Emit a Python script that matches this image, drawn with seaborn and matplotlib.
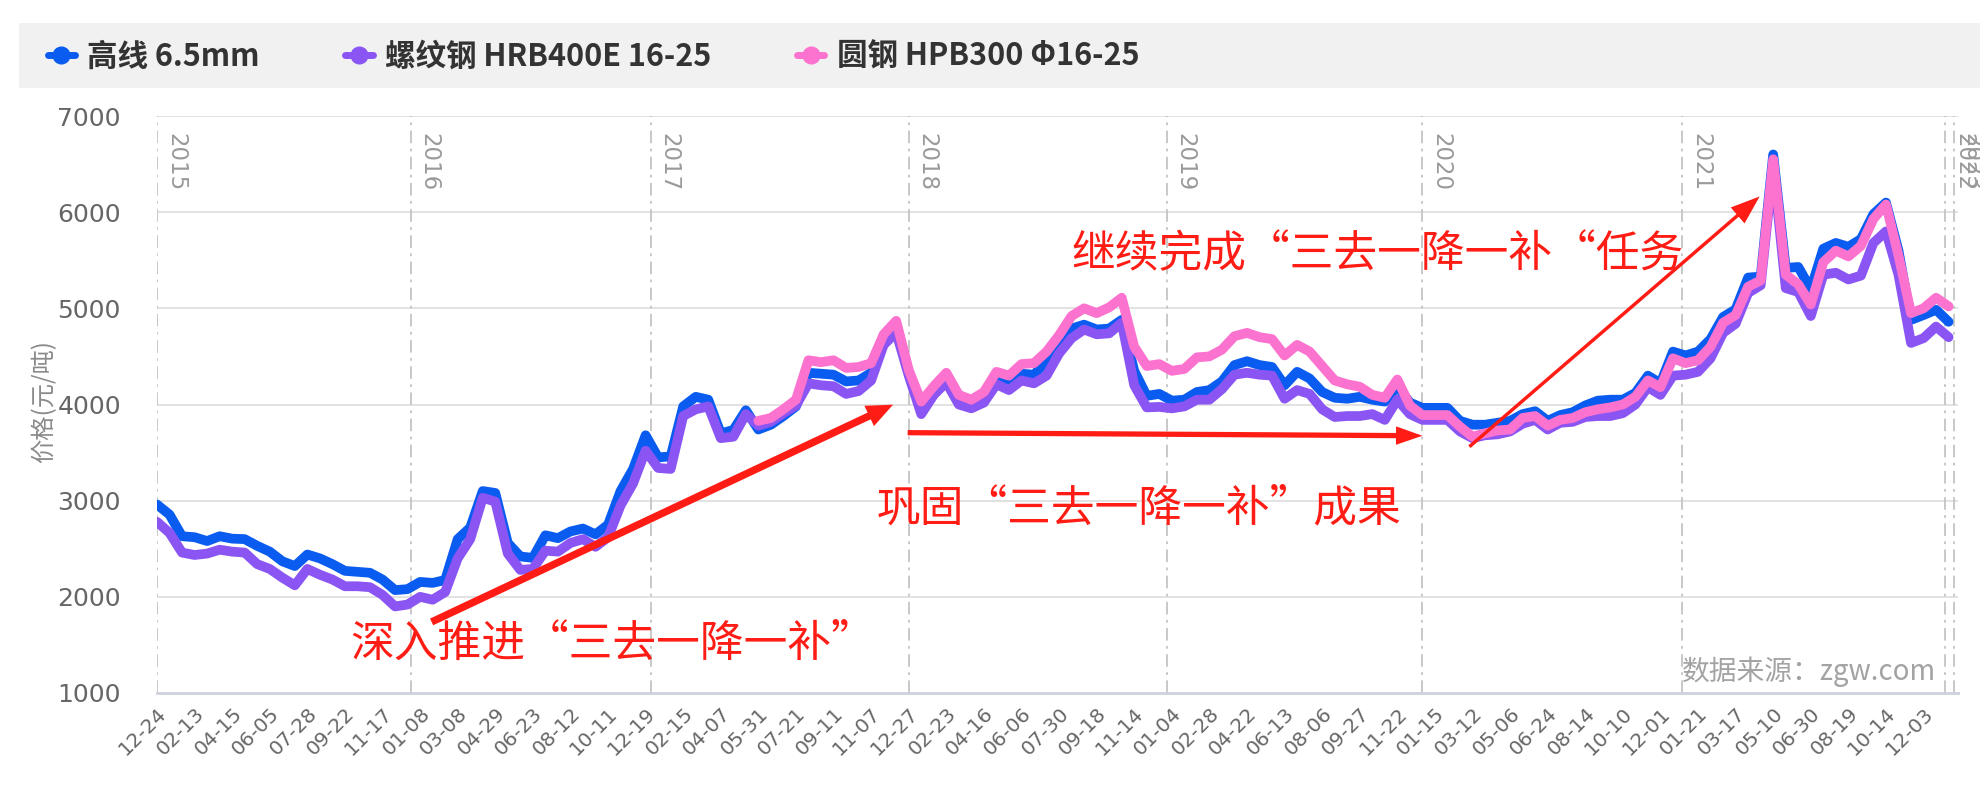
import numpy as np
import pandas as pd
import matplotlib
matplotlib.use("Agg")
import matplotlib.pyplot as plt
import seaborn as sns
from matplotlib.lines import Line2D
from matplotlib.patches import Rectangle

# ---------------- data ----------------
series_names = ["高线 6.5mm", "螺纹钢 HRB400E 16-25", "圆钢 HPB300 Φ16-25"]
sample_step = 12      # trading-day categories between stored samples
tick_every = 36       # categories between x tick labels
n_categories = 1725

wire_rod = [2960, 2855, 2630, 2620, 2580, 2630, 2605, 2600, 2530, 2470,
            2370, 2320, 2440, 2400, 2340, 2270, 2260, 2250, 2180, 2070,
            2080, 2155, 2145, 2175, 2600, 2720, 3100, 3080, 2560, 2420,
            2405, 2640, 2610, 2680, 2710, 2650, 2750, 3100, 3330, 3680,
            3450, 3460, 3980, 4080, 4050, 3700, 3735, 3940, 3740, 3790,
            3880, 3980, 4330, 4320, 4310, 4240, 4250, 4330, 4680, 4800,
            4330, 3950, 4130, 4280, 4050, 3990, 4060, 4260, 4220, 4320,
            4310, 4450, 4600, 4790, 4830, 4780, 4790, 4880, 4350, 4090,
            4110, 4040, 4050, 4130, 4150, 4240, 4410, 4450, 4410, 4390,
            4200, 4340, 4270, 4130, 4070, 4060, 4080, 4050, 4030, 4190,
            4020, 3965, 3965, 3965, 3830, 3790, 3790, 3810, 3830, 3900,
            3930, 3830, 3890, 3920, 3990, 4040, 4050, 4050, 4120, 4300,
            4220, 4550, 4510, 4550, 4680, 4910, 4990, 5320, 5330, 6600,
            5420, 5430, 5200, 5620, 5680, 5640, 5720, 5980, 6100, 5600,
            4880, 4930, 4985, 4860]

rebar = [2780, 2665, 2460, 2435, 2450, 2490, 2470, 2460, 2340, 2290,
         2200, 2120, 2290, 2230, 2180, 2110, 2110, 2100, 2020, 1900,
         1920, 2000, 1970, 2050, 2400, 2600, 3030, 2990, 2450, 2280,
         2290, 2480, 2470, 2560, 2600, 2520, 2620, 2950, 3180, 3520,
         3340, 3330, 3880, 3950, 3980, 3650, 3665, 3900, 3780, 3820,
         3910, 3990, 4220, 4200, 4190, 4110, 4140, 4250, 4620, 4750,
         4300, 3900, 4100, 4230, 4000, 3960, 4020, 4210, 4150, 4250,
         4220, 4300, 4530, 4690, 4780, 4730, 4740, 4850, 4200, 3970,
         3975, 3960, 3980, 4050, 4050, 4160, 4310, 4330, 4310, 4300,
         4060, 4150, 4110, 3950, 3870, 3880, 3880, 3900, 3840, 4050,
         3900, 3840, 3840, 3840, 3720, 3650, 3680, 3690, 3720, 3800,
         3840, 3740, 3810, 3820, 3870, 3880, 3880, 3910, 4000, 4180,
         4100, 4300, 4310, 4340, 4480, 4745, 4840, 5160, 5240, 6480,
         5210, 5170, 4920, 5350, 5370, 5300, 5340, 5680, 5800, 5350,
         4640, 4690, 4810, 4700]

round_bar = [np.nan] * 48 + [
    3830, 3860, 3950, 4050, 4460, 4440, 4460, 4380, 4390, 4430,
    4730, 4870, 4360, 4030, 4190, 4330, 4100, 4050, 4130, 4340,
    4300, 4420, 4430, 4550, 4720, 4920, 5000, 4950, 5010, 5110,
    4600, 4400, 4420, 4350, 4370, 4490, 4500, 4570, 4710, 4745,
    4700, 4680, 4510, 4620, 4550, 4400, 4250, 4210, 4185, 4100,
    4070, 4260, 3990, 3890, 3890, 3890, 3770, 3665, 3700, 3730,
    3740, 3860, 3880, 3780, 3840, 3860, 3920, 3950, 3970, 4000,
    4080, 4250, 4180, 4480, 4430, 4460, 4600, 4850, 4930, 5225,
    5290, 6550, 5350, 5250, 5040, 5480, 5600, 5540, 5650, 5930,
    6080, 5550, 4950, 5000, 5110, 5020]

tick_labels = ["12-24", "02-13", "04-15", "06-05", "07-28", "09-22", "11-17", "01-08",
               "03-08", "04-29", "06-23", "08-12", "10-11", "12-19", "02-15", "04-07",
               "05-31", "07-21", "09-11", "11-07", "12-27", "02-23", "04-16", "06-06",
               "07-30", "09-18", "11-14", "01-04", "02-28", "04-22", "06-13", "08-06",
               "09-27", "11-22", "01-15", "03-12", "05-06", "06-24", "08-14", "10-10",
               "12-01", "01-21", "03-17", "05-10", "06-30", "08-19", "10-14", "12-03"]

year_labels = ["2015", "2016", "2017", "2018", "2019", "2020", "2021", "2022", "2023"]
year_start_category = [0, 243, 473, 720, 967, 1212, 1461, 1713, 1721]

y_ticks = [1000, 2000, 3000, 4000, 5000, 6000, 7000]

notes = ["深入推进“三去一降一补”", "巩固“三去一降一补”成果", "继续完成“三去一降一补“任务"]
note_xy = [(436, 1510), (941, 2915), (1169, 5560)]
arrow_from = [(263, 1739), (719, 3707), (1257, 3561)]
arrow_to = [(705, 3998), (1212, 3675), (1535, 6163)]

colors = ["#0a5cf0", "#8a55f2", "#fb72cf"]

# ---------------- frame ----------------
rows = []
for name, vals in zip(series_names, [wire_rod, rebar, round_bar]):
    for i, v in enumerate(vals):
        rows.append({"idx": i * sample_step, "price": v, "series": name})
df = pd.DataFrame(rows).dropna()

sns.set_theme(style="white")
plt.rcParams["font.family"] = ["Noto Sans CJK SC", "DejaVu Sans"]
plt.rcParams["axes.unicode_minus"] = False

fig = plt.figure(figsize=(19.8, 8), dpi=100)
ax = fig.add_axes([157 / 1980, 1 - 693 / 800, (1958 - 157) / 1980, (693 - 116) / 800])

# legend band
fig.patches.append(Rectangle((19 / 1980, 1 - 88 / 800), 1, 65 / 800,
                             transform=fig.transFigure, facecolor="#f1f1f1",
                             edgecolor="none", zorder=0))

# grid
for yv in y_ticks[1:]:
    ax.axhline(yv, color="#e2e2e2", lw=1.4, zorder=0)

# year lines
for lab, pos in zip(year_labels, year_start_category):
    ax.axvline(pos, color="#c4c4c4", lw=1.3, ls=(0, (7, 3, 1.5, 3)), zorder=1)
    ax.annotate(lab, xy=(pos, 1), xycoords=("data", "axes fraction"),
                xytext=(5, -12), textcoords="offset points", rotation=270,
                ha="left", va="top", color="#9a9a9a", fontsize=16.5,
                family=["DejaVu Sans"])

sns.lineplot(data=df, x="idx", y="price", hue="series", hue_order=series_names,
             palette=colors, linewidth=7, estimator=None, sort=False,
             legend=False, ax=ax, solid_joinstyle="round", solid_capstyle="round",
             zorder=3)

ax.set_xlim(0, n_categories)
ax.set_ylim(1000, 7000)
ax.set_yticks(y_ticks)
ax.set_yticklabels([str(v) for v in y_ticks], color="#666666", fontsize=18,
                   family=["DejaVu Sans"])
ticks = [i * tick_every for i in range(len(tick_labels))]
ax.set_xticks(ticks)
ax.set_xticklabels(tick_labels, rotation=45, ha="right", va="top",
                   rotation_mode="anchor", color="#666666", fontsize=14.5,
                   family=["DejaVu Sans"])
ax.tick_params(axis="x", length=0, pad=8)
ax.tick_params(axis="y", length=0, pad=26)
ax.set_xlabel("")
ax.set_ylabel("")
for s in ["top", "right", "left"]:
    ax.spines[s].set_visible(False)
ax.spines["bottom"].set_color("#cdd1dc")
ax.spines["bottom"].set_linewidth(2)
ax.grid(False)

fig.text(44 / 1980, 1 - 402 / 800, "价格(元/吨)", rotation=90, ha="center",
         va="center", color="#8a8a8a", fontsize=17.5)

# annotations
red = "#ff1c14"
for t, (x, y) in zip(notes, note_xy):
    ax.text(x, y, t, color=red, fontsize=31.5, ha="center", va="center", zorder=5)
styles = ["simple,head_length=1.0,head_width=0.85,tail_width=0.28",
          "simple,head_length=1.0,head_width=0.7,tail_width=0.2",
          "simple,head_length=1.1,head_width=0.8,tail_width=0.13"]
for (x0, y0), (x1, y1), st in zip(arrow_from, arrow_to, styles):
    ax.annotate("", xy=(x1, y1), xytext=(x0, y0),
                arrowprops=dict(arrowstyle=st, color=red, mutation_scale=19,
                                shrinkA=0, shrinkB=0, lw=0), zorder=5)

ax.text(0.988, 0.036, "数据来源：zgw.com", transform=ax.transAxes, ha="right",
        va="center", color="#a3a3a3", fontsize=20, zorder=5)

# legend
handles = [Line2D([], [], color=c, lw=5, marker="o", markersize=12,
                  solid_capstyle="round") for c in colors]
fig.legend(handles, series_names, loc="center left",
           bbox_to_anchor=(20 / 1980, 1 - 57 / 800), ncol=3, frameon=False,
           handlelength=0.9, handletextpad=0.4, columnspacing=2.8,
           prop={"family": ["Noto Sans CJK SC", "DejaVu Sans"], "weight": "bold",
                 "size": 22},
           labelcolor="#333333")

fig.savefig("out.png", dpi=100, facecolor="white")
